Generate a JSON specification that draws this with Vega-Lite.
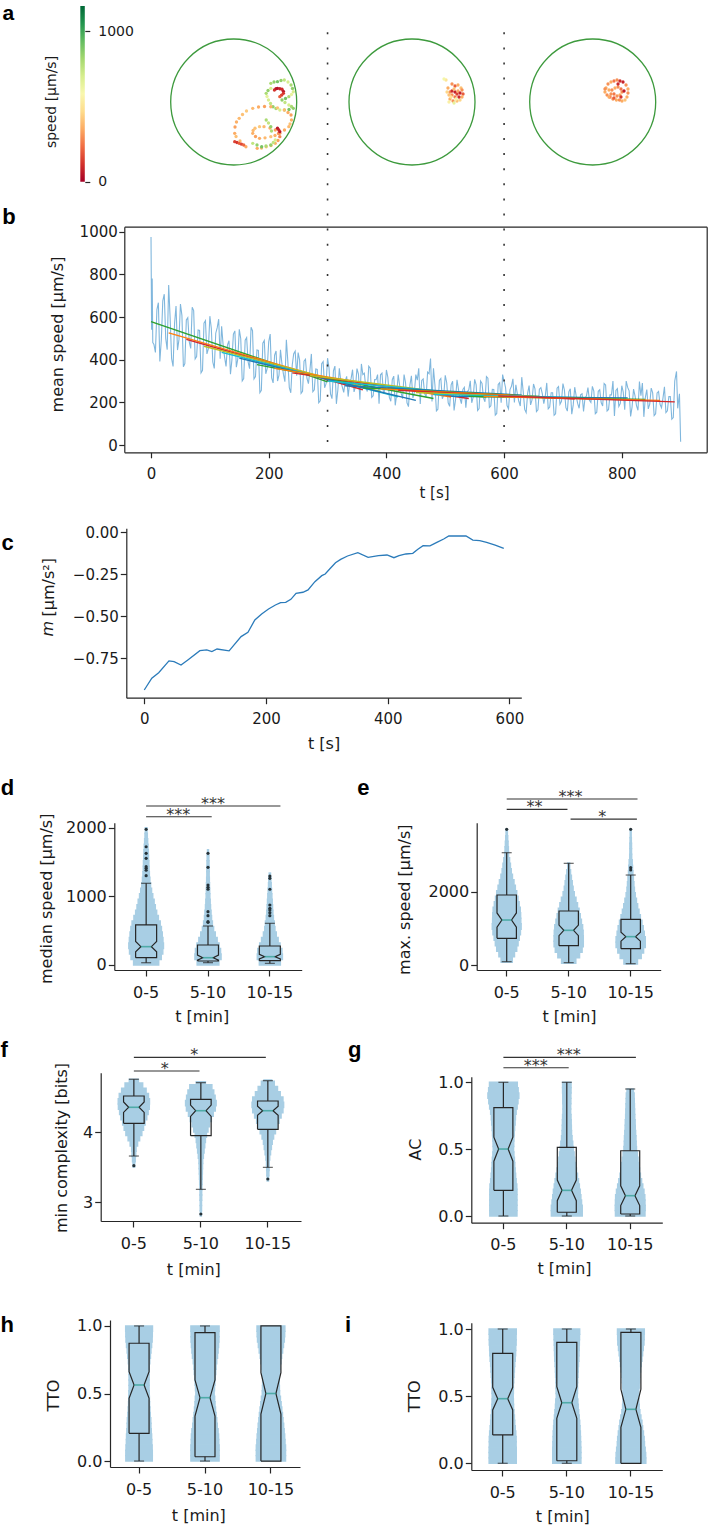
{
"$schema":"https://vega.github.io/schema/vega-lite/v6.json",
"width":708,"height":1526,"autosize":{"type":"none"},"padding":0,"background":"white",
"config":{"view":{"stroke":null},"axis":{"grid":false,"labelFlush":false,"labelOverlap":false,"labelFont":"DejaVu Sans","titleFont":"DejaVu Sans","labelFontSize":16,"titleFontSize":16,"titleFontWeight":"normal","labelColor":"#1a1a1a","titleColor":"#1a1a1a","domainColor":"#262626","tickColor":"#262626","domainWidth":1.2,"tickWidth":1.2,"tickSize":6,"labelPadding":2,"labelAngle":0,"titleAlign":"center","titleBaseline":"middle"},"text":{"font":"DejaVu Sans"}},
"datasets":{
"noise":[{"t":0,"v":975},{"t":1,"v":540},{"t":2,"v":780},{"t":3,"v":480},{"t":5,"v":471},{"t":10,"v":635},{"t":15,"v":392},{"t":20,"v":676},{"t":25,"v":500},{"t":30,"v":750},{"t":35,"v":405},{"t":40,"v":570},{"t":45,"v":445},{"t":50,"v":661},{"t":55,"v":367},{"t":60,"v":586},{"t":65,"v":483},{"t":70,"v":646},{"t":75,"v":404},{"t":80,"v":539},{"t":85,"v":338},{"t":90,"v":571},{"t":95,"v":427},{"t":100,"v":604},{"t":105,"v":389},{"t":110,"v":524},{"t":115,"v":590},{"t":120,"v":557},{"t":125,"v":412},{"t":130,"v":470},{"t":135,"v":332},{"t":140,"v":520},{"t":145,"v":365},{"t":150,"v":542},{"t":155,"v":300},{"t":160,"v":491},{"t":165,"v":389},{"t":170,"v":552},{"t":175,"v":310},{"t":180,"v":445},{"t":185,"v":245},{"t":190,"v":478},{"t":195,"v":334},{"t":200,"v":484},{"t":205,"v":315},{"t":210,"v":421},{"t":215,"v":300},{"t":220,"v":446},{"t":225,"v":332},{"t":230,"v":493},{"t":235,"v":269},{"t":240,"v":375},{"t":245,"v":440},{"t":250,"v":433},{"t":255,"v":242},{"t":260,"v":393},{"t":265,"v":312},{"t":270,"v":350},{"t":275,"v":250},{"t":280,"v":356},{"t":285,"v":198},{"t":290,"v":381},{"t":295,"v":268},{"t":300,"v":407},{"t":305,"v":240},{"t":310,"v":348},{"t":315,"v":193},{"t":320,"v":360},{"t":325,"v":273},{"t":330,"v":300},{"t":335,"v":227},{"t":340,"v":311},{"t":345,"v":249},{"t":350,"v":358},{"t":355,"v":212},{"t":360,"v":330},{"t":365,"v":269},{"t":370,"v":369},{"t":375,"v":223},{"t":380,"v":307},{"t":385,"v":330},{"t":390,"v":329},{"t":395,"v":243},{"t":400,"v":352},{"t":405,"v":223},{"t":410,"v":306},{"t":415,"v":186},{"t":420,"v":330},{"t":425,"v":243},{"t":430,"v":330},{"t":435,"v":198},{"t":440,"v":282},{"t":445,"v":220},{"t":450,"v":330},{"t":455,"v":360},{"t":460,"v":303},{"t":465,"v":241},{"t":470,"v":342},{"t":475,"v":405},{"t":480,"v":360},{"t":485,"v":160},{"t":490,"v":303},{"t":495,"v":217},{"t":500,"v":327},{"t":505,"v":198},{"t":510,"v":282},{"t":515,"v":162},{"t":520,"v":306},{"t":525,"v":219},{"t":530,"v":260},{"t":535,"v":175},{"t":540,"v":259},{"t":545,"v":198},{"t":550,"v":308},{"t":555,"v":162},{"t":560,"v":300},{"t":565,"v":220},{"t":570,"v":321},{"t":575,"v":176},{"t":580,"v":261},{"t":585,"v":140},{"t":590,"v":284},{"t":595,"v":198},{"t":600,"v":299},{"t":605,"v":185},{"t":610,"v":260},{"t":615,"v":310},{"t":620,"v":282},{"t":625,"v":205},{"t":630,"v":318},{"t":635,"v":167},{"t":640,"v":242},{"t":645,"v":188},{"t":650,"v":286},{"t":655,"v":157},{"t":660,"v":262},{"t":665,"v":240},{"t":670,"v":230},{"t":675,"v":170},{"t":680,"v":245},{"t":685,"v":139},{"t":690,"v":266},{"t":695,"v":191},{"t":700,"v":288},{"t":705,"v":175},{"t":710,"v":249},{"t":715,"v":144},{"t":720,"v":271},{"t":725,"v":195},{"t":730,"v":235},{"t":735,"v":157},{"t":740,"v":231},{"t":745,"v":210},{"t":750,"v":275},{"t":755,"v":147},{"t":760,"v":252},{"t":765,"v":199},{"t":770,"v":288},{"t":775,"v":160},{"t":780,"v":235},{"t":785,"v":300},{"t":790,"v":256},{"t":795,"v":181},{"t":800,"v":278},{"t":805,"v":165},{"t":810,"v":270},{"t":815,"v":134},{"t":820,"v":262},{"t":825,"v":185},{"t":830,"v":298},{"t":835,"v":290},{"t":840,"v":222},{"t":845,"v":169},{"t":850,"v":267},{"t":855,"v":138},{"t":860,"v":244},{"t":865,"v":191},{"t":870,"v":220},{"t":875,"v":152},{"t":880,"v":227},{"t":885,"v":121},{"t":890,"v":300},{"t":893,"v":345},{"t":895,"v":172},{"t":898,"v":240},{"t":900,"v":15},
{"t":7.5,"v":434},{"t":12.5,"v":667},{"t":17.5,"v":492},{"t":22.5,"v":707},{"t":27.5,"v":447},{"t":32.5,"v":595},{"t":37.5,"v":368},{"t":42.5,"v":652},{"t":47.5,"v":494},{"t":52.5,"v":608},{"t":57.5,"v":382},{"t":62.5,"v":597},{"t":67.5,"v":453},{"t":72.5,"v":630},{"t":77.5,"v":415},{"t":82.5,"v":537},{"t":87.5,"v":350},{"t":92.5,"v":583},{"t":97.5,"v":452},{"t":102.5,"v":546},{"t":107.5,"v":359},{"t":112.5,"v":550},{"t":117.5,"v":405},{"t":122.5,"v":470},{"t":127.5,"v":368},{"t":132.5,"v":489},{"t":137.5,"v":400},{"t":142.5,"v":535},{"t":147.5,"v":404},{"t":152.5,"v":498},{"t":157.5,"v":311},{"t":162.5,"v":503},{"t":167.5,"v":358},{"t":172.5,"v":536},{"t":177.5,"v":321},{"t":182.5,"v":443},{"t":187.5,"v":256},{"t":192.5,"v":490},{"t":197.5,"v":359},{"t":202.5,"v":520},{"t":207.5,"v":291},{"t":212.5,"v":441},{"t":217.5,"v":327},{"t":222.5,"v":380},{"t":227.5,"v":297},{"t":232.5,"v":392},{"t":237.5,"v":245},{"t":242.5,"v":428},{"t":247.5,"v":325},{"t":252.5,"v":398},{"t":257.5,"v":252},{"t":262.5,"v":402},{"t":267.5,"v":288},{"t":272.5,"v":427},{"t":277.5,"v":259},{"t":282.5,"v":354},{"t":287.5,"v":207},{"t":292.5,"v":391},{"t":297.5,"v":288},{"t":302.5,"v":362},{"t":307.5,"v":217},{"t":312.5,"v":370},{"t":317.5,"v":258},{"t":322.5,"v":300},{"t":327.5,"v":247},{"t":332.5,"v":322},{"t":337.5,"v":290},{"t":342.5,"v":353},{"t":347.5,"v":274},{"t":352.5,"v":332},{"t":357.5,"v":380},{"t":362.5,"v":337},{"t":367.5,"v":251},{"t":372.5,"v":360},{"t":377.5,"v":231},{"t":382.5,"v":306},{"t":387.5,"v":194},{"t":392.5,"v":337},{"t":397.5,"v":259},{"t":402.5,"v":317},{"t":407.5,"v":205},{"t":412.5,"v":323},{"t":417.5,"v":237},{"t":422.5,"v":280},{"t":427.5,"v":217},{"t":432.5,"v":293},{"t":437.5,"v":180},{"t":442.5,"v":324},{"t":447.5,"v":246},{"t":452.5,"v":304},{"t":457.5,"v":192},{"t":462.5,"v":310},{"t":467.5,"v":224},{"t":472.5,"v":334},{"t":477.5,"v":204},{"t":482.5,"v":280},{"t":487.5,"v":168},{"t":492.5,"v":312},{"t":497.5,"v":234},{"t":502.5,"v":292},{"t":507.5,"v":181},{"t":512.5,"v":299},{"t":517.5,"v":213},{"t":522.5,"v":260},{"t":527.5,"v":194},{"t":532.5,"v":270},{"t":537.5,"v":250},{"t":542.5,"v":301},{"t":547.5,"v":224},{"t":552.5,"v":282},{"t":557.5,"v":171},{"t":562.5,"v":289},{"t":567.5,"v":203},{"t":572.5,"v":313},{"t":577.5,"v":184},{"t":582.5,"v":260},{"t":587.5,"v":148},{"t":592.5,"v":292},{"t":597.5,"v":330},{"t":602.5,"v":269},{"t":607.5,"v":170},{"t":612.5,"v":275},{"t":617.5,"v":199},{"t":622.5,"v":240},{"t":627.5,"v":183},{"t":632.5,"v":250},{"t":637.5,"v":152},{"t":642.5,"v":279},{"t":647.5,"v":211},{"t":652.5,"v":263},{"t":657.5,"v":165},{"t":662.5,"v":269},{"t":667.5,"v":194},{"t":672.5,"v":291},{"t":677.5,"v":178},{"t":682.5,"v":245},{"t":687.5,"v":146},{"t":692.5,"v":274},{"t":697.5,"v":205},{"t":702.5,"v":258},{"t":707.5,"v":159},{"t":712.5,"v":264},{"t":717.5,"v":188},{"t":722.5,"v":230},{"t":727.5,"v":172},{"t":732.5,"v":240},{"t":737.5,"v":220},{"t":742.5,"v":269},{"t":747.5,"v":200},{"t":752.5,"v":253},{"t":757.5,"v":154},{"t":762.5,"v":259},{"t":767.5,"v":183},{"t":772.5,"v":281},{"t":777.5,"v":167},{"t":782.5,"v":235},{"t":787.5,"v":136},{"t":792.5,"v":264},{"t":797.5,"v":195},{"t":802.5,"v":248},{"t":807.5,"v":300},{"t":812.5,"v":254},{"t":817.5,"v":179},{"t":822.5,"v":230},{"t":827.5,"v":163},{"t":832.5,"v":231},{"t":837.5,"v":132},{"t":842.5,"v":260},{"t":847.5,"v":192},{"t":852.5,"v":244},{"t":857.5,"v":146},{"t":862.5,"v":251},{"t":867.5,"v":175},{"t":872.5,"v":273},{"t":877.5,"v":160},{"t":882.5,"v":227},{"t":887.5,"v":129}],
"fits":[{"w":0,"t":0,"v":578},{"w":0,"t":300,"v":296},{"w":1,"t":30,"v":526},{"w":1,"t":330,"v":286},{"w":2,"t":60,"v":495},{"w":2,"t":360,"v":259},{"w":3,"t":90,"v":463},{"w":3,"t":390,"v":251},{"w":4,"t":120,"v":434},{"w":4,"t":420,"v":226},{"w":5,"t":150,"v":407},{"w":5,"t":450,"v":209},{"w":6,"t":180,"v":377},{"w":6,"t":480,"v":218},{"w":7,"t":210,"v":359},{"w":7,"t":510,"v":225},{"w":8,"t":240,"v":338},{"w":8,"t":540,"v":218},{"w":9,"t":270,"v":326},{"w":9,"t":570,"v":223},{"w":10,"t":300,"v":300},{"w":10,"t":600,"v":225},{"w":11,"t":330,"v":278},{"w":11,"t":630,"v":234},{"w":12,"t":360,"v":268},{"w":12,"t":660,"v":228},{"w":13,"t":390,"v":263},{"w":13,"t":690,"v":222},{"w":14,"t":420,"v":257},{"w":14,"t":720,"v":215},{"w":15,"t":450,"v":246},{"w":15,"t":750,"v":216},{"w":16,"t":480,"v":237},{"w":16,"t":780,"v":219},{"w":17,"t":510,"v":228},{"w":17,"t":810,"v":221},{"w":18,"t":540,"v":228},{"w":18,"t":840,"v":214},{"w":19,"t":565,"v":228},{"w":19,"t":865,"v":209},{"w":20,"t":590,"v":230},{"w":20,"t":890,"v":202}],
"dots":[{"t":300,"v":14,"v2":1992},{"t":600,"v":14,"v2":1992}],
"slope":[{"t":0,"m":-0.939},{"t":12.4,"m":-0.869},{"t":23.7,"m":-0.836},{"t":40.6,"m":-0.766},{"t":49,"m":-0.77},{"t":60.4,"m":-0.79},{"t":71.6,"m":-0.76},{"t":91.4,"m":-0.705},{"t":102.7,"m":-0.7},{"t":111.1,"m":-0.71},{"t":119.6,"m":-0.695},{"t":139.4,"m":-0.706},{"t":159.1,"m":-0.621},{"t":170.4,"m":-0.595},{"t":181.7,"m":-0.522},{"t":192.9,"m":-0.486},{"t":204.2,"m":-0.457},{"t":215.5,"m":-0.433},{"t":224,"m":-0.419},{"t":232.4,"m":-0.417},{"t":240.9,"m":-0.399},{"t":249.4,"m":-0.363},{"t":260.7,"m":-0.357},{"t":269.1,"m":-0.343},{"t":280.4,"m":-0.294},{"t":291.7,"m":-0.258},{"t":297.3,"m":-0.248},{"t":305.8,"m":-0.214},{"t":314.2,"m":-0.181},{"t":322.7,"m":-0.161},{"t":334,"m":-0.141},{"t":350.9,"m":-0.121},{"t":367.8,"m":-0.149},{"t":384.8,"m":-0.139},{"t":398.9,"m":-0.135},{"t":410.2,"m":-0.151},{"t":418.6,"m":-0.139},{"t":429.9,"m":-0.129},{"t":441.2,"m":-0.125},{"t":449.6,"m":-0.101},{"t":458.1,"m":-0.08},{"t":469.4,"m":-0.081},{"t":480.7,"m":-0.06},{"t":492,"m":-0.04},{"t":500.4,"m":-0.022},{"t":514.5,"m":-0.022},{"t":528.6,"m":-0.022},{"t":539.9,"m":-0.046},{"t":551.2,"m":-0.049},{"t":562.5,"m":-0.06},{"t":576.6,"m":-0.076},{"t":590.7,"m":-0.095}],
"traj1":[{"x":0.589,"y":0.297,"s":800},{"x":0.64,"y":0.317,"s":850},{"x":0.695,"y":0.322,"s":900},{"x":0.751,"y":0.341,"s":850},{"x":0.803,"y":0.349,"s":750},{"x":0.862,"y":0.317,"s":700},{"x":0.91,"y":0.27,"s":800},{"x":0.933,"y":0.214,"s":850},{"x":0.946,"y":0.163,"s":700},{"x":0.917,"y":0.119,"s":650},{"x":0.875,"y":0.084,"s":800},{"x":0.822,"y":0.056,"s":900},{"x":0.767,"y":0.032,"s":850},{"x":0.814,"y":-0.008,"s":750},{"x":0.875,"y":-0.048,"s":700},{"x":0.917,"y":-0.071,"s":800},{"x":0.946,"y":-0.1,"s":850},{"x":0.878,"y":-0.119,"s":900},{"x":0.806,"y":-0.127,"s":800},{"x":0.732,"y":-0.127,"s":700},{"x":0.671,"y":-0.103,"s":800},{"x":0.624,"y":-0.075,"s":850},{"x":0.584,"y":-0.024,"s":750},{"x":0.552,"y":0.032,"s":700},{"x":0.529,"y":0.087,"s":650},{"x":0.516,"y":0.138,"s":800},{"x":0.545,"y":0.183,"s":850},{"x":0.589,"y":0.217,"s":700},{"x":0.646,"y":0.19,"s":120},{"x":0.671,"y":0.21,"s":60},{"x":0.695,"y":0.217,"s":40},{"x":0.732,"y":0.21,"s":80},{"x":0.767,"y":0.202,"s":100},{"x":0.789,"y":0.17,"s":60},{"x":0.789,"y":0.138,"s":120},{"x":0.759,"y":0.108,"s":150},{"x":0.732,"y":0.084,"s":200},{"x":0.194,"y":-0.71,"s":350},{"x":0.1,"y":-0.619,"s":380},{"x":0.037,"y":-0.548,"s":400},{"x":0.016,"y":-0.497,"s":350},{"x":0.021,"y":-0.397,"s":330},{"x":0.044,"y":-0.317,"s":360},{"x":0.087,"y":-0.259,"s":380},{"x":0.14,"y":-0.198,"s":400},{"x":0.203,"y":-0.143,"s":420},{"x":0.302,"y":-0.1,"s":380},{"x":0.394,"y":-0.079,"s":350},{"x":0.489,"y":-0.071,"s":330},{"x":0.589,"y":-0.075,"s":360},{"x":0.695,"y":-0.092,"s":400},{"x":0.803,"y":-0.127,"s":380},{"x":0.862,"y":-0.167,"s":350},{"x":0.91,"y":-0.206,"s":330},{"x":0.917,"y":-0.286,"s":360},{"x":0.894,"y":-0.349,"s":400},{"x":0.875,"y":-0.392,"s":380},{"x":0.806,"y":-0.444,"s":350},{"x":0.732,"y":-0.497,"s":330},{"x":0.656,"y":-0.532,"s":360},{"x":0.589,"y":-0.551,"s":400},{"x":0.497,"y":-0.568,"s":380},{"x":0.41,"y":-0.576,"s":350},{"x":0.346,"y":-0.548,"s":330},{"x":0.302,"y":-0.497,"s":360},{"x":0.308,"y":-0.452,"s":380},{"x":0.338,"y":-0.417,"s":400},{"x":0.41,"y":-0.392,"s":420},{"x":0.481,"y":-0.392,"s":380},{"x":0.576,"y":-0.413,"s":350},{"x":0.66,"y":-0.444,"s":330},{"x":0.711,"y":-0.5,"s":300},{"x":0.732,"y":-0.551,"s":280},{"x":0.703,"y":-0.611,"s":330},{"x":0.66,"y":-0.656,"s":360},{"x":0.592,"y":-0.69,"s":380},{"x":0.516,"y":-0.71,"s":400},{"x":0.441,"y":-0.73,"s":380},{"x":0.373,"y":-0.735,"s":350},{"x":0.302,"y":-0.656,"s":750},{"x":0.37,"y":-0.683,"s":850},{"x":0.444,"y":-0.71,"s":900},{"x":0.513,"y":-0.698,"s":800},{"x":0.589,"y":-0.683,"s":850},{"x":0.629,"y":-0.643,"s":750},{"x":0.66,"y":-0.603,"s":700},{"x":0.6,"y":-0.46,"s":800},{"x":0.589,"y":-0.392,"s":850},{"x":0.552,"y":-0.333,"s":750},{"x":0.516,"y":-0.286,"s":800},{"x":0.016,"y":-0.63,"s":150},{"x":0.052,"y":-0.643,"s":120},{"x":0.087,"y":-0.656,"s":200},{"x":0.124,"y":-0.67,"s":160},{"x":0.159,"y":-0.683,"s":220},{"x":0.695,"y":-0.417,"s":60},{"x":0.732,"y":-0.471,"s":50},{"x":0.716,"y":-0.444,"s":80}],
"traj2":[{"x":0.54,"y":0.349,"s":500},{"x":0.508,"y":0.365,"s":600},{"x":0.571,"y":0.222,"s":350},{"x":0.635,"y":0.286,"s":300},{"x":0.683,"y":0.254,"s":200},{"x":0.73,"y":0.27,"s":350},{"x":0.778,"y":0.222,"s":400},{"x":0.794,"y":0.19,"s":300},{"x":0.81,"y":0.127,"s":200},{"x":0.794,"y":0.079,"s":350},{"x":0.762,"y":0.032,"s":450},{"x":0.714,"y":0.016,"s":400},{"x":0.651,"y":0.016,"s":300},{"x":0.603,"y":0.048,"s":350},{"x":0.587,"y":0.111,"s":400},{"x":0.603,"y":0.159,"s":300},{"x":0.635,"y":0.175,"s":100},{"x":0.683,"y":0.159,"s":80},{"x":0.714,"y":0.127,"s":150},{"x":0.746,"y":0.079,"s":100},{"x":0.683,"y":0.079,"s":250},{"x":0.635,"y":0.111,"s":300},{"x":0.667,"y":0.206,"s":400},{"x":0.73,"y":0.175,"s":350},{"x":0.762,"y":0.143,"s":80},{"x":0.698,"y":0.048,"s":600},{"x":0.619,"y":0.079,"s":500},{"x":0.556,"y":0.159,"s":450},{"x":0.587,"y":0.0,"s":550},{"x":0.667,"y":-0.016,"s":650}],
"traj3":[{"x":0.211,"y":0.222,"s":350},{"x":0.243,"y":0.286,"s":300},{"x":0.29,"y":0.317,"s":350},{"x":0.338,"y":0.333,"s":250},{"x":0.386,"y":0.349,"s":300},{"x":0.433,"y":0.333,"s":100},{"x":0.481,"y":0.317,"s":80},{"x":0.529,"y":0.27,"s":300},{"x":0.56,"y":0.206,"s":350},{"x":0.56,"y":0.143,"s":300},{"x":0.544,"y":0.079,"s":350},{"x":0.513,"y":0.032,"s":400},{"x":0.465,"y":0.016,"s":350},{"x":0.424,"y":0.032,"s":300},{"x":0.376,"y":0.032,"s":350},{"x":0.322,"y":0.048,"s":300},{"x":0.275,"y":0.079,"s":250},{"x":0.228,"y":0.111,"s":300},{"x":0.195,"y":0.159,"s":350},{"x":0.195,"y":0.206,"s":300},{"x":0.259,"y":0.19,"s":350},{"x":0.306,"y":0.19,"s":300},{"x":0.354,"y":0.222,"s":350},{"x":0.402,"y":0.238,"s":300},{"x":0.449,"y":0.206,"s":250},{"x":0.465,"y":0.159,"s":300},{"x":0.433,"y":0.111,"s":350},{"x":0.386,"y":0.095,"s":300},{"x":0.338,"y":0.127,"s":250},{"x":0.29,"y":0.127,"s":300},{"x":0.259,"y":0.079,"s":350},{"x":0.338,"y":0.063,"s":200},{"x":0.449,"y":0.079,"s":120},{"x":0.497,"y":0.175,"s":60},{"x":0.402,"y":0.286,"s":100}],
"vd":[{"g":"0-5","v":0,"v2":80,"d":0.74},{"g":"0-5","v":80,"v2":160,"d":0.89},{"g":"0-5","v":160,"v2":240,"d":0.98},{"g":"0-5","v":240,"v2":320,"d":1.02},{"g":"0-5","v":320,"v2":400,"d":0.99},{"g":"0-5","v":400,"v2":480,"d":0.95},{"g":"0-5","v":480,"v2":560,"d":0.9},{"g":"0-5","v":560,"v2":640,"d":0.83},{"g":"0-5","v":640,"v2":720,"d":0.72},{"g":"0-5","v":720,"v2":800,"d":0.62},{"g":"0-5","v":800,"v2":880,"d":0.54},{"g":"0-5","v":880,"v2":960,"d":0.47},{"g":"0-5","v":960,"v2":1040,"d":0.39},{"g":"0-5","v":1040,"v2":1120,"d":0.32},{"g":"0-5","v":1120,"v2":1200,"d":0.26},{"g":"0-5","v":1200,"v2":1280,"d":0.22},{"g":"0-5","v":1280,"v2":1360,"d":0.19},{"g":"0-5","v":1360,"v2":1440,"d":0.17},{"g":"0-5","v":1440,"v2":1520,"d":0.16},{"g":"0-5","v":1520,"v2":1600,"d":0.14},{"g":"0-5","v":1600,"v2":1680,"d":0.13},{"g":"0-5","v":1680,"v2":1760,"d":0.11},{"g":"0-5","v":1760,"v2":1840,"d":0.09},{"g":"0-5","v":1840,"v2":1920,"d":0.07},{"g":"0-5","v":1920,"v2":2000,"d":0.05},
{"g":"5-10","v":0,"v2":80,"d":0.64},{"g":"5-10","v":80,"v2":160,"d":0.77},{"g":"5-10","v":160,"v2":240,"d":0.74},{"g":"5-10","v":240,"v2":320,"d":0.65},{"g":"5-10","v":320,"v2":400,"d":0.54},{"g":"5-10","v":400,"v2":480,"d":0.43},{"g":"5-10","v":480,"v2":560,"d":0.33},{"g":"5-10","v":560,"v2":640,"d":0.26},{"g":"5-10","v":640,"v2":720,"d":0.21},{"g":"5-10","v":720,"v2":800,"d":0.18},{"g":"5-10","v":800,"v2":880,"d":0.15},{"g":"5-10","v":880,"v2":960,"d":0.13},{"g":"5-10","v":960,"v2":1040,"d":0.11},{"g":"5-10","v":1040,"v2":1120,"d":0.1},{"g":"5-10","v":1120,"v2":1200,"d":0.09},{"g":"5-10","v":1200,"v2":1280,"d":0.08},{"g":"5-10","v":1280,"v2":1360,"d":0.07},{"g":"5-10","v":1360,"v2":1440,"d":0.07},{"g":"5-10","v":1440,"v2":1520,"d":0.06},{"g":"5-10","v":1520,"v2":1600,"d":0.05},{"g":"5-10","v":1600,"v2":1680,"d":0.03},
{"g":"10-15","v":0,"v2":80,"d":0.62},{"g":"10-15","v":80,"v2":160,"d":0.74},{"g":"10-15","v":160,"v2":240,"d":0.71},{"g":"10-15","v":240,"v2":320,"d":0.6},{"g":"10-15","v":320,"v2":400,"d":0.49},{"g":"10-15","v":400,"v2":480,"d":0.38},{"g":"10-15","v":480,"v2":560,"d":0.3},{"g":"10-15","v":560,"v2":640,"d":0.26},{"g":"10-15","v":640,"v2":720,"d":0.21},{"g":"10-15","v":720,"v2":800,"d":0.18},{"g":"10-15","v":800,"v2":880,"d":0.16},{"g":"10-15","v":880,"v2":960,"d":0.14},{"g":"10-15","v":960,"v2":1040,"d":0.12},{"g":"10-15","v":1040,"v2":1120,"d":0.1},{"g":"10-15","v":1120,"v2":1200,"d":0.08},{"g":"10-15","v":1200,"v2":1280,"d":0.06},{"g":"10-15","v":1280,"v2":1340,"d":0.04}],
"bd":[{"g":"0-5","i":0,"o":-1,"v":107},{"g":"0-5","i":1,"o":-1,"v":192},{"g":"0-5","i":2,"o":-0.5,"v":267},{"g":"0-5","i":3,"o":-1,"v":342},{"g":"0-5","i":4,"o":-1,"v":583},{"g":"0-5","i":5,"o":1,"v":583},{"g":"0-5","i":6,"o":1,"v":342},{"g":"0-5","i":7,"o":0.5,"v":267},{"g":"0-5","i":8,"o":1,"v":192},{"g":"0-5","i":9,"o":1,"v":107},{"g":"0-5","i":10,"o":-1,"v":107},
{"g":"5-10","i":0,"o":-1,"v":58},{"g":"5-10","i":1,"o":-1,"v":70},{"g":"5-10","i":2,"o":-0.5,"v":106},{"g":"5-10","i":3,"o":-1,"v":145},{"g":"5-10","i":4,"o":-1,"v":291},{"g":"5-10","i":5,"o":1,"v":291},{"g":"5-10","i":6,"o":1,"v":145},{"g":"5-10","i":7,"o":0.5,"v":106},{"g":"5-10","i":8,"o":1,"v":70},{"g":"5-10","i":9,"o":1,"v":58},{"g":"5-10","i":10,"o":-1,"v":58},
{"g":"10-15","i":0,"o":-1,"v":63},{"g":"10-15","i":1,"o":-1,"v":88},{"g":"10-15","i":2,"o":-0.5,"v":121},{"g":"10-15","i":3,"o":-1,"v":154},{"g":"10-15","i":4,"o":-1,"v":277},{"g":"10-15","i":5,"o":1,"v":277},{"g":"10-15","i":6,"o":1,"v":154},{"g":"10-15","i":7,"o":0.5,"v":121},{"g":"10-15","i":8,"o":1,"v":88},{"g":"10-15","i":9,"o":1,"v":63},{"g":"10-15","i":10,"o":-1,"v":63}],
"wd":[{"g":"0-5","v":583,"v2":1190},{"g":"0-5","v":107,"v2":33},{"g":"5-10","v":291,"v2":568},{"g":"5-10","v":58,"v2":34},{"g":"10-15","v":277,"v2":607},{"g":"10-15","v":63,"v2":24}],
"cd":[{"g":"0-5","v":1190},{"g":"0-5","v":33},{"g":"5-10","v":568},{"g":"5-10","v":34},{"g":"10-15","v":607},{"g":"10-15","v":24}],
"md":[{"g":"0-5","v":267},{"g":"5-10","v":106},{"g":"10-15","v":121}],
"fd":[{"g":"0-5","v":1976},{"g":"0-5","v":1723},{"g":"0-5","v":1627},{"g":"0-5","v":1554},{"g":"0-5","v":1432},{"g":"0-5","v":1408},{"g":"0-5","v":1380},{"g":"0-5","v":1301},{"g":"5-10","v":1627},{"g":"5-10","v":1423},{"g":"5-10","v":1165},{"g":"5-10","v":1132},{"g":"5-10","v":1103},{"g":"5-10","v":777},{"g":"5-10","v":719},{"g":"5-10","v":631},{"g":"5-10","v":622},{"g":"10-15","v":1296},{"g":"10-15","v":1262},{"g":"10-15","v":1103},{"g":"10-15","v":874},{"g":"10-15","v":826},{"g":"10-15","v":801},{"g":"10-15","v":762},{"g":"10-15","v":719}],
"sld":[{"x":0,"x2":2.17,"y":2316},{"x":0,"x2":1.06,"y":2160}],
"std":[{"x":1.08,"y":2316,"label":"***"},{"x":0.52,"y":2160,"label":"***"}],
"ve":[{"g":"0-5","v":75,"v2":225,"d":0.33},{"g":"0-5","v":225,"v2":375,"d":0.46},{"g":"0-5","v":375,"v2":525,"d":0.59},{"g":"0-5","v":525,"v2":675,"d":0.67},{"g":"0-5","v":675,"v2":825,"d":0.74},{"g":"0-5","v":825,"v2":975,"d":0.81},{"g":"0-5","v":975,"v2":1125,"d":0.85},{"g":"0-5","v":1125,"v2":1275,"d":0.83},{"g":"0-5","v":1275,"v2":1425,"d":0.82},{"g":"0-5","v":1425,"v2":1575,"d":0.8},{"g":"0-5","v":1575,"v2":1725,"d":0.73},{"g":"0-5","v":1725,"v2":1875,"d":0.66},{"g":"0-5","v":1875,"v2":2025,"d":0.59},{"g":"0-5","v":2025,"v2":2175,"d":0.51},{"g":"0-5","v":2175,"v2":2325,"d":0.43},{"g":"0-5","v":2325,"v2":2475,"d":0.34},{"g":"0-5","v":2475,"v2":2625,"d":0.27},{"g":"0-5","v":2625,"v2":2775,"d":0.22},{"g":"0-5","v":2775,"v2":2925,"d":0.17},{"g":"0-5","v":2925,"v2":3075,"d":0.11},{"g":"0-5","v":3075,"v2":3225,"d":0.1},{"g":"0-5","v":3225,"v2":3375,"d":0.08},{"g":"0-5","v":3375,"v2":3525,"d":0.06},{"g":"0-5","v":3525,"v2":3700,"d":0.04},
{"g":"5-10","v":50,"v2":200,"d":0.42},{"g":"5-10","v":200,"v2":350,"d":0.64},{"g":"5-10","v":350,"v2":500,"d":0.79},{"g":"5-10","v":500,"v2":650,"d":0.86},{"g":"5-10","v":650,"v2":800,"d":0.86},{"g":"5-10","v":800,"v2":950,"d":0.85},{"g":"5-10","v":950,"v2":1100,"d":0.82},{"g":"5-10","v":1100,"v2":1250,"d":0.75},{"g":"5-10","v":1250,"v2":1400,"d":0.68},{"g":"5-10","v":1400,"v2":1550,"d":0.61},{"g":"5-10","v":1550,"v2":1700,"d":0.52},{"g":"5-10","v":1700,"v2":1850,"d":0.43},{"g":"5-10","v":1850,"v2":2000,"d":0.33},{"g":"5-10","v":2000,"v2":2150,"d":0.26},{"g":"5-10","v":2150,"v2":2300,"d":0.21},{"g":"5-10","v":2300,"v2":2450,"d":0.16},{"g":"5-10","v":2450,"v2":2600,"d":0.11},{"g":"5-10","v":2600,"v2":2780,"d":0.06},
{"g":"10-15","v":25,"v2":175,"d":0.4},{"g":"10-15","v":175,"v2":325,"d":0.62},{"g":"10-15","v":325,"v2":475,"d":0.76},{"g":"10-15","v":475,"v2":625,"d":0.86},{"g":"10-15","v":625,"v2":775,"d":0.86},{"g":"10-15","v":775,"v2":925,"d":0.8},{"g":"10-15","v":925,"v2":1075,"d":0.74},{"g":"10-15","v":1075,"v2":1225,"d":0.66},{"g":"10-15","v":1225,"v2":1375,"d":0.57},{"g":"10-15","v":1375,"v2":1525,"d":0.49},{"g":"10-15","v":1525,"v2":1675,"d":0.41},{"g":"10-15","v":1675,"v2":1825,"d":0.34},{"g":"10-15","v":1825,"v2":1975,"d":0.27},{"g":"10-15","v":1975,"v2":2125,"d":0.22},{"g":"10-15","v":2125,"v2":2275,"d":0.19},{"g":"10-15","v":2275,"v2":2425,"d":0.16},{"g":"10-15","v":2425,"v2":2575,"d":0.13},{"g":"10-15","v":2575,"v2":2725,"d":0.11},{"g":"10-15","v":2725,"v2":2875,"d":0.09},{"g":"10-15","v":2875,"v2":3025,"d":0.06},{"g":"10-15","v":3025,"v2":3175,"d":0.05},{"g":"10-15","v":3175,"v2":3325,"d":0.05},{"g":"10-15","v":3325,"v2":3475,"d":0.04},{"g":"10-15","v":3475,"v2":3700,"d":0.03}],
"be":[{"g":"0-5","i":0,"o":-1,"v":727},{"g":"0-5","i":1,"o":-1,"v":1030},{"g":"0-5","i":2,"o":-0.5,"v":1227},{"g":"0-5","i":3,"o":-1,"v":1420},{"g":"0-5","i":4,"o":-1,"v":1909},{"g":"0-5","i":5,"o":1,"v":1909},{"g":"0-5","i":6,"o":1,"v":1420},{"g":"0-5","i":7,"o":0.5,"v":1227},{"g":"0-5","i":8,"o":1,"v":1030},{"g":"0-5","i":9,"o":1,"v":727},{"g":"0-5","i":10,"o":-1,"v":727},
{"g":"5-10","i":0,"o":-1,"v":527},{"g":"5-10","i":1,"o":-1,"v":800},{"g":"5-10","i":2,"o":-0.5,"v":946},{"g":"5-10","i":3,"o":-1,"v":1090},{"g":"5-10","i":4,"o":-1,"v":1473},{"g":"5-10","i":5,"o":1,"v":1473},{"g":"5-10","i":6,"o":1,"v":1090},{"g":"5-10","i":7,"o":0.5,"v":946},{"g":"5-10","i":8,"o":1,"v":800},{"g":"5-10","i":9,"o":1,"v":527},{"g":"5-10","i":10,"o":-1,"v":527},
{"g":"10-15","i":0,"o":-1,"v":445},{"g":"10-15","i":1,"o":-1,"v":650},{"g":"10-15","i":2,"o":-0.5,"v":773},{"g":"10-15","i":3,"o":-1,"v":896},{"g":"10-15","i":4,"o":-1,"v":1245},{"g":"10-15","i":5,"o":1,"v":1245},{"g":"10-15","i":6,"o":1,"v":896},{"g":"10-15","i":7,"o":0.5,"v":773},{"g":"10-15","i":8,"o":1,"v":650},{"g":"10-15","i":9,"o":1,"v":445},{"g":"10-15","i":10,"o":-1,"v":445}],
"we":[{"g":"0-5","v":1909,"v2":3063},{"g":"0-5","v":727,"v2":91},{"g":"5-10","v":1473,"v2":2773},{"g":"5-10","v":527,"v2":64},{"g":"10-15","v":1245,"v2":2454},{"g":"10-15","v":445,"v2":36}],
"ce":[{"g":"0-5","v":3063},{"g":"0-5","v":91},{"g":"5-10","v":2773},{"g":"5-10","v":64},{"g":"10-15","v":2454},{"g":"10-15","v":36}],
"me":[{"g":"0-5","v":1227},{"g":"5-10","v":946},{"g":"10-15","v":773}],
"fe":[{"g":"0-5","v":3700},{"g":"10-15","v":3700},{"g":"10-15","v":2654},{"g":"10-15","v":2591}],
"sle":[{"x":0,"x2":2.11,"y":4527},{"x":0,"x2":0.98,"y":4245},{"x":1.03,"x2":2.1,"y":3981}],
"ste":[{"x":1.03,"y":4527,"label":"***"},{"x":0.45,"y":4245,"label":"**"},{"x":1.54,"y":3981,"label":"*"}],
"vf":[{"g":"0-5","v":3.5,"v2":3.575,"d":0.05},{"g":"0-5","v":3.575,"v2":3.65,"d":0.08},{"g":"0-5","v":3.65,"v2":3.725,"d":0.11},{"g":"0-5","v":3.725,"v2":3.8,"d":0.13},{"g":"0-5","v":3.8,"v2":3.875,"d":0.22},{"g":"0-5","v":3.875,"v2":3.95,"d":0.34},{"g":"0-5","v":3.95,"v2":4.025,"d":0.47},{"g":"0-5","v":4.025,"v2":4.1,"d":0.57},{"g":"0-5","v":4.1,"v2":4.175,"d":0.66},{"g":"0-5","v":4.175,"v2":4.25,"d":0.76},{"g":"0-5","v":4.25,"v2":4.325,"d":0.84},{"g":"0-5","v":4.325,"v2":4.4,"d":0.91},{"g":"0-5","v":4.4,"v2":4.475,"d":0.92},{"g":"0-5","v":4.475,"v2":4.55,"d":0.86},{"g":"0-5","v":4.55,"v2":4.625,"d":0.72},{"g":"0-5","v":4.625,"v2":4.7,"d":0.52},{"g":"0-5","v":4.7,"v2":4.755,"d":0.27},
{"g":"5-10","v":2.8,"v2":2.875,"d":0.03},{"g":"5-10","v":2.875,"v2":2.95,"d":0.04},{"g":"5-10","v":2.95,"v2":3.025,"d":0.04},{"g":"5-10","v":3.025,"v2":3.1,"d":0.05},{"g":"5-10","v":3.1,"v2":3.175,"d":0.05},{"g":"5-10","v":3.175,"v2":3.25,"d":0.06},{"g":"5-10","v":3.25,"v2":3.325,"d":0.07},{"g":"5-10","v":3.325,"v2":3.4,"d":0.08},{"g":"5-10","v":3.4,"v2":3.475,"d":0.09},{"g":"5-10","v":3.475,"v2":3.55,"d":0.1},{"g":"5-10","v":3.55,"v2":3.625,"d":0.11},{"g":"5-10","v":3.625,"v2":3.7,"d":0.15},{"g":"5-10","v":3.7,"v2":3.775,"d":0.19},{"g":"5-10","v":3.775,"v2":3.85,"d":0.23},{"g":"5-10","v":3.85,"v2":3.925,"d":0.27},{"g":"5-10","v":3.925,"v2":4.0,"d":0.33},{"g":"5-10","v":4.0,"v2":4.075,"d":0.42},{"g":"5-10","v":4.075,"v2":4.15,"d":0.51},{"g":"5-10","v":4.15,"v2":4.225,"d":0.62},{"g":"5-10","v":4.225,"v2":4.3,"d":0.73},{"g":"5-10","v":4.3,"v2":4.375,"d":0.85},{"g":"5-10","v":4.375,"v2":4.45,"d":0.9},{"g":"5-10","v":4.45,"v2":4.525,"d":0.84},{"g":"5-10","v":4.525,"v2":4.6,"d":0.76},{"g":"5-10","v":4.6,"v2":4.675,"d":0.65},{"g":"5-10","v":4.675,"v2":4.72,"d":0.27},
{"g":"10-15","v":3.3,"v2":3.375,"d":0.04},{"g":"10-15","v":3.375,"v2":3.45,"d":0.06},{"g":"10-15","v":3.45,"v2":3.525,"d":0.07},{"g":"10-15","v":3.525,"v2":3.6,"d":0.08},{"g":"10-15","v":3.6,"v2":3.675,"d":0.11},{"g":"10-15","v":3.675,"v2":3.75,"d":0.16},{"g":"10-15","v":3.75,"v2":3.825,"d":0.21},{"g":"10-15","v":3.825,"v2":3.9,"d":0.26},{"g":"10-15","v":3.9,"v2":3.975,"d":0.34},{"g":"10-15","v":3.975,"v2":4.05,"d":0.45},{"g":"10-15","v":4.05,"v2":4.125,"d":0.55},{"g":"10-15","v":4.125,"v2":4.2,"d":0.66},{"g":"10-15","v":4.2,"v2":4.275,"d":0.78},{"g":"10-15","v":4.275,"v2":4.35,"d":0.89},{"g":"10-15","v":4.35,"v2":4.425,"d":0.93},{"g":"10-15","v":4.425,"v2":4.5,"d":0.89},{"g":"10-15","v":4.5,"v2":4.575,"d":0.73},{"g":"10-15","v":4.575,"v2":4.65,"d":0.57},{"g":"10-15","v":4.65,"v2":4.725,"d":0.38},{"g":"10-15","v":4.725,"v2":4.745,"d":0.23}],
"bf":[{"g":"0-5","i":0,"o":-1,"v":4.124},{"g":"0-5","i":1,"o":-1,"v":4.28},{"g":"0-5","i":2,"o":-0.5,"v":4.353},{"g":"0-5","i":3,"o":-1,"v":4.43},{"g":"0-5","i":4,"o":-1,"v":4.514},{"g":"0-5","i":5,"o":1,"v":4.514},{"g":"0-5","i":6,"o":1,"v":4.43},{"g":"0-5","i":7,"o":0.5,"v":4.353},{"g":"0-5","i":8,"o":1,"v":4.28},{"g":"0-5","i":9,"o":1,"v":4.124},{"g":"0-5","i":10,"o":-1,"v":4.124},
{"g":"5-10","i":0,"o":-1,"v":3.948},{"g":"5-10","i":1,"o":-1,"v":4.223},{"g":"5-10","i":2,"o":-0.5,"v":4.304},{"g":"5-10","i":3,"o":-1,"v":4.385},{"g":"5-10","i":4,"o":-1,"v":4.467},{"g":"5-10","i":5,"o":1,"v":4.467},{"g":"5-10","i":6,"o":1,"v":4.385},{"g":"5-10","i":7,"o":0.5,"v":4.304},{"g":"5-10","i":8,"o":1,"v":4.223},{"g":"5-10","i":9,"o":1,"v":3.948},{"g":"5-10","i":10,"o":-1,"v":3.948},
{"g":"10-15","i":0,"o":-1,"v":4.038},{"g":"10-15","i":1,"o":-1,"v":4.24},{"g":"10-15","i":2,"o":-0.5,"v":4.304},{"g":"10-15","i":3,"o":-1,"v":4.368},{"g":"10-15","i":4,"o":-1,"v":4.443},{"g":"10-15","i":5,"o":1,"v":4.443},{"g":"10-15","i":6,"o":1,"v":4.368},{"g":"10-15","i":7,"o":0.5,"v":4.304},{"g":"10-15","i":8,"o":1,"v":4.24},{"g":"10-15","i":9,"o":1,"v":4.038},{"g":"10-15","i":10,"o":-1,"v":4.038}],
"wf":[{"g":"0-5","v":4.514,"v2":4.753},{"g":"0-5","v":4.124,"v2":3.657},{"g":"5-10","v":4.467,"v2":4.705},{"g":"5-10","v":3.948,"v2":3.181},{"g":"10-15","v":4.443,"v2":4.733},{"g":"10-15","v":4.038,"v2":3.495}],
"cf":[{"g":"0-5","v":4.753},{"g":"0-5","v":3.657},{"g":"5-10","v":4.705},{"g":"5-10","v":3.181},{"g":"10-15","v":4.733},{"g":"10-15","v":3.495}],
"mf":[{"g":"0-5","v":4.353},{"g":"5-10","v":4.304},{"g":"10-15","v":4.304}],
"ff":[{"g":"0-5","v":3.519},{"g":"5-10","v":2.829},{"g":"10-15","v":3.329}],
"slf":[{"x":0,"x2":1.97,"y":5.067},{"x":0,"x2":0.98,"y":4.871}],
"stf":[{"x":0.9,"y":5.067,"label":"*"},{"x":0.46,"y":4.871,"label":"*"}],
"vg":[{"g":"0-5","v":0,"v2":0.04,"d":0.8},{"g":"0-5","v":0.04,"v2":0.08,"d":0.8},{"g":"0-5","v":0.08,"v2":0.12,"d":0.8},{"g":"0-5","v":0.12,"v2":0.16,"d":0.8},{"g":"0-5","v":0.16,"v2":0.2,"d":0.8},{"g":"0-5","v":0.2,"v2":0.24,"d":0.79},{"g":"0-5","v":0.24,"v2":0.28,"d":0.75},{"g":"0-5","v":0.28,"v2":0.32,"d":0.72},{"g":"0-5","v":0.32,"v2":0.36,"d":0.69},{"g":"0-5","v":0.36,"v2":0.4,"d":0.67},{"g":"0-5","v":0.4,"v2":0.44,"d":0.65},{"g":"0-5","v":0.44,"v2":0.48,"d":0.62},{"g":"0-5","v":0.48,"v2":0.52,"d":0.6},{"g":"0-5","v":0.52,"v2":0.56,"d":0.61},{"g":"0-5","v":0.56,"v2":0.6,"d":0.62},{"g":"0-5","v":0.6,"v2":0.64,"d":0.64},{"g":"0-5","v":0.64,"v2":0.68,"d":0.66},{"g":"0-5","v":0.68,"v2":0.72,"d":0.69},{"g":"0-5","v":0.72,"v2":0.76,"d":0.71},{"g":"0-5","v":0.76,"v2":0.8,"d":0.75},{"g":"0-5","v":0.8,"v2":0.84,"d":0.81},{"g":"0-5","v":0.84,"v2":0.88,"d":0.86},{"g":"0-5","v":0.88,"v2":0.92,"d":0.91},{"g":"0-5","v":0.92,"v2":0.96,"d":0.87},{"g":"0-5","v":0.96,"v2":1,"d":0.82},
{"g":"5-10","v":0,"v2":0.04,"d":0.91},{"g":"5-10","v":0.04,"v2":0.08,"d":0.91},{"g":"5-10","v":0.08,"v2":0.12,"d":0.87},{"g":"5-10","v":0.12,"v2":0.16,"d":0.83},{"g":"5-10","v":0.16,"v2":0.2,"d":0.79},{"g":"5-10","v":0.2,"v2":0.24,"d":0.74},{"g":"5-10","v":0.24,"v2":0.28,"d":0.69},{"g":"5-10","v":0.28,"v2":0.32,"d":0.63},{"g":"5-10","v":0.32,"v2":0.36,"d":0.57},{"g":"5-10","v":0.36,"v2":0.4,"d":0.51},{"g":"5-10","v":0.4,"v2":0.44,"d":0.47},{"g":"5-10","v":0.44,"v2":0.48,"d":0.43},{"g":"5-10","v":0.48,"v2":0.52,"d":0.39},{"g":"5-10","v":0.52,"v2":0.56,"d":0.35},{"g":"5-10","v":0.56,"v2":0.6,"d":0.31},{"g":"5-10","v":0.6,"v2":0.64,"d":0.28},{"g":"5-10","v":0.64,"v2":0.68,"d":0.27},{"g":"5-10","v":0.68,"v2":0.72,"d":0.26},{"g":"5-10","v":0.72,"v2":0.76,"d":0.25},{"g":"5-10","v":0.76,"v2":0.8,"d":0.23},{"g":"5-10","v":0.8,"v2":0.84,"d":0.23},{"g":"5-10","v":0.84,"v2":0.88,"d":0.24},{"g":"5-10","v":0.88,"v2":0.92,"d":0.24},{"g":"5-10","v":0.92,"v2":0.96,"d":0.25},{"g":"5-10","v":0.96,"v2":1,"d":0.25},
{"g":"10-15","v":0,"v2":0.04,"d":0.87},{"g":"10-15","v":0.04,"v2":0.08,"d":0.88},{"g":"10-15","v":0.08,"v2":0.12,"d":0.87},{"g":"10-15","v":0.12,"v2":0.16,"d":0.86},{"g":"10-15","v":0.16,"v2":0.2,"d":0.81},{"g":"10-15","v":0.2,"v2":0.24,"d":0.74},{"g":"10-15","v":0.24,"v2":0.28,"d":0.67},{"g":"10-15","v":0.28,"v2":0.32,"d":0.6},{"g":"10-15","v":0.32,"v2":0.36,"d":0.55},{"g":"10-15","v":0.36,"v2":0.4,"d":0.51},{"g":"10-15","v":0.4,"v2":0.44,"d":0.46},{"g":"10-15","v":0.44,"v2":0.48,"d":0.42},{"g":"10-15","v":0.48,"v2":0.52,"d":0.37},{"g":"10-15","v":0.52,"v2":0.56,"d":0.35},{"g":"10-15","v":0.56,"v2":0.6,"d":0.34},{"g":"10-15","v":0.6,"v2":0.64,"d":0.32},{"g":"10-15","v":0.64,"v2":0.68,"d":0.3},{"g":"10-15","v":0.68,"v2":0.72,"d":0.29},{"g":"10-15","v":0.72,"v2":0.76,"d":0.27},{"g":"10-15","v":0.76,"v2":0.8,"d":0.26},{"g":"10-15","v":0.8,"v2":0.84,"d":0.25},{"g":"10-15","v":0.84,"v2":0.88,"d":0.24},{"g":"10-15","v":0.88,"v2":0.92,"d":0.23},{"g":"10-15","v":0.92,"v2":0.95,"d":0.19}],
"bg":[{"g":"0-5","i":0,"o":-1,"v":0.192},{"g":"0-5","i":1,"o":-1,"v":0.41},{"g":"0-5","i":2,"o":-0.5,"v":0.501},{"g":"0-5","i":3,"o":-1,"v":0.59},{"g":"0-5","i":4,"o":-1,"v":0.81},{"g":"0-5","i":5,"o":1,"v":0.81},{"g":"0-5","i":6,"o":1,"v":0.59},{"g":"0-5","i":7,"o":0.5,"v":0.501},{"g":"0-5","i":8,"o":1,"v":0.41},{"g":"0-5","i":9,"o":1,"v":0.192},{"g":"0-5","i":10,"o":-1,"v":0.192},
{"g":"5-10","i":0,"o":-1,"v":0.028},{"g":"5-10","i":1,"o":-1,"v":0.115},{"g":"5-10","i":2,"o":-0.5,"v":0.192},{"g":"5-10","i":3,"o":-1,"v":0.269},{"g":"5-10","i":4,"o":-1,"v":0.514},{"g":"5-10","i":5,"o":1,"v":0.514},{"g":"5-10","i":6,"o":1,"v":0.269},{"g":"5-10","i":7,"o":0.5,"v":0.192},{"g":"5-10","i":8,"o":1,"v":0.115},{"g":"5-10","i":9,"o":1,"v":0.028},{"g":"5-10","i":10,"o":-1,"v":0.028},
{"g":"10-15","i":0,"o":-1,"v":0.015},{"g":"10-15","i":1,"o":-1,"v":0.078},{"g":"10-15","i":2,"o":-0.5,"v":0.152},{"g":"10-15","i":3,"o":-1,"v":0.226},{"g":"10-15","i":4,"o":-1,"v":0.488},{"g":"10-15","i":5,"o":1,"v":0.488},{"g":"10-15","i":6,"o":1,"v":0.226},{"g":"10-15","i":7,"o":0.5,"v":0.152},{"g":"10-15","i":8,"o":1,"v":0.078},{"g":"10-15","i":9,"o":1,"v":0.015},{"g":"10-15","i":10,"o":-1,"v":0.015}],
"wg":[{"g":"0-5","v":0.81,"v2":1},{"g":"0-5","v":0.192,"v2":0},{"g":"5-10","v":0.514,"v2":1},{"g":"5-10","v":0.028,"v2":0},{"g":"10-15","v":0.488,"v2":0.95},{"g":"10-15","v":0.015,"v2":0}],
"cg":[{"g":"0-5","v":1},{"g":"0-5","v":0},{"g":"5-10","v":1},{"g":"5-10","v":0},{"g":"10-15","v":0.95},{"g":"10-15","v":0}],
"mg":[{"g":"0-5","v":0.501},{"g":"5-10","v":0.192},{"g":"10-15","v":0.152}],
"slg":[{"x":0,"x2":2.09,"y":1.187},{"x":0,"x2":1.03,"y":1.109}],
"stg":[{"x":1.03,"y":1.187,"label":"***"},{"x":0.51,"y":1.109,"label":"***"}],
"vh":[{"g":"0-5","v":0,"v2":0.04,"d":0.78},{"g":"0-5","v":0.04,"v2":0.08,"d":0.78},{"g":"0-5","v":0.08,"v2":0.12,"d":0.77},{"g":"0-5","v":0.12,"v2":0.16,"d":0.75},{"g":"0-5","v":0.16,"v2":0.2,"d":0.74},{"g":"0-5","v":0.2,"v2":0.24,"d":0.72},{"g":"0-5","v":0.24,"v2":0.28,"d":0.7},{"g":"0-5","v":0.28,"v2":0.32,"d":0.69},{"g":"0-5","v":0.32,"v2":0.36,"d":0.66},{"g":"0-5","v":0.36,"v2":0.4,"d":0.64},{"g":"0-5","v":0.4,"v2":0.44,"d":0.62},{"g":"0-5","v":0.44,"v2":0.48,"d":0.61},{"g":"0-5","v":0.48,"v2":0.52,"d":0.6},{"g":"0-5","v":0.52,"v2":0.56,"d":0.59},{"g":"0-5","v":0.56,"v2":0.6,"d":0.59},{"g":"0-5","v":0.6,"v2":0.64,"d":0.59},{"g":"0-5","v":0.64,"v2":0.68,"d":0.59},{"g":"0-5","v":0.68,"v2":0.72,"d":0.6},{"g":"0-5","v":0.72,"v2":0.76,"d":0.63},{"g":"0-5","v":0.76,"v2":0.8,"d":0.67},{"g":"0-5","v":0.8,"v2":0.84,"d":0.7},{"g":"0-5","v":0.84,"v2":0.88,"d":0.74},{"g":"0-5","v":0.88,"v2":0.92,"d":0.77},{"g":"0-5","v":0.92,"v2":0.96,"d":0.78},{"g":"0-5","v":0.96,"v2":1,"d":0.79},
{"g":"5-10","v":0,"v2":0.04,"d":0.83},{"g":"5-10","v":0.04,"v2":0.08,"d":0.83},{"g":"5-10","v":0.08,"v2":0.12,"d":0.83},{"g":"5-10","v":0.12,"v2":0.16,"d":0.81},{"g":"5-10","v":0.16,"v2":0.2,"d":0.8},{"g":"5-10","v":0.2,"v2":0.24,"d":0.77},{"g":"5-10","v":0.24,"v2":0.28,"d":0.72},{"g":"5-10","v":0.28,"v2":0.32,"d":0.69},{"g":"5-10","v":0.32,"v2":0.36,"d":0.65},{"g":"5-10","v":0.36,"v2":0.4,"d":0.62},{"g":"5-10","v":0.4,"v2":0.44,"d":0.59},{"g":"5-10","v":0.44,"v2":0.48,"d":0.57},{"g":"5-10","v":0.48,"v2":0.52,"d":0.54},{"g":"5-10","v":0.52,"v2":0.56,"d":0.56},{"g":"5-10","v":0.56,"v2":0.6,"d":0.58},{"g":"5-10","v":0.6,"v2":0.64,"d":0.6},{"g":"5-10","v":0.64,"v2":0.68,"d":0.63},{"g":"5-10","v":0.68,"v2":0.72,"d":0.65},{"g":"5-10","v":0.72,"v2":0.76,"d":0.69},{"g":"5-10","v":0.76,"v2":0.8,"d":0.74},{"g":"5-10","v":0.8,"v2":0.84,"d":0.77},{"g":"5-10","v":0.84,"v2":0.88,"d":0.8},{"g":"5-10","v":0.88,"v2":0.92,"d":0.82},{"g":"5-10","v":0.92,"v2":0.96,"d":0.82},{"g":"5-10","v":0.96,"v2":1,"d":0.83},
{"g":"10-15","v":0,"v2":0.04,"d":0.86},{"g":"10-15","v":0.04,"v2":0.08,"d":0.86},{"g":"10-15","v":0.08,"v2":0.12,"d":0.86},{"g":"10-15","v":0.12,"v2":0.16,"d":0.83},{"g":"10-15","v":0.16,"v2":0.2,"d":0.81},{"g":"10-15","v":0.2,"v2":0.24,"d":0.78},{"g":"10-15","v":0.24,"v2":0.28,"d":0.75},{"g":"10-15","v":0.28,"v2":0.32,"d":0.71},{"g":"10-15","v":0.32,"v2":0.36,"d":0.68},{"g":"10-15","v":0.36,"v2":0.4,"d":0.64},{"g":"10-15","v":0.4,"v2":0.44,"d":0.6},{"g":"10-15","v":0.44,"v2":0.48,"d":0.56},{"g":"10-15","v":0.48,"v2":0.52,"d":0.51},{"g":"10-15","v":0.52,"v2":0.56,"d":0.5},{"g":"10-15","v":0.56,"v2":0.6,"d":0.49},{"g":"10-15","v":0.6,"v2":0.64,"d":0.49},{"g":"10-15","v":0.64,"v2":0.68,"d":0.52},{"g":"10-15","v":0.68,"v2":0.72,"d":0.54},{"g":"10-15","v":0.72,"v2":0.76,"d":0.59},{"g":"10-15","v":0.76,"v2":0.8,"d":0.63},{"g":"10-15","v":0.8,"v2":0.84,"d":0.69},{"g":"10-15","v":0.84,"v2":0.88,"d":0.74},{"g":"10-15","v":0.88,"v2":0.92,"d":0.79},{"g":"10-15","v":0.92,"v2":0.96,"d":0.81},{"g":"10-15","v":0.96,"v2":1,"d":0.82}],
"bh":[{"g":"0-5","i":0,"o":-1,"v":0.205},{"g":"0-5","i":1,"o":-1,"v":0.464},{"g":"0-5","i":2,"o":-0.5,"v":0.563},{"g":"0-5","i":3,"o":-1,"v":0.662},{"g":"0-5","i":4,"o":-1,"v":0.872},{"g":"0-5","i":5,"o":1,"v":0.872},{"g":"0-5","i":6,"o":1,"v":0.662},{"g":"0-5","i":7,"o":0.5,"v":0.563},{"g":"0-5","i":8,"o":1,"v":0.464},{"g":"0-5","i":9,"o":1,"v":0.205},{"g":"0-5","i":10,"o":-1,"v":0.205},
{"g":"5-10","i":0,"o":-1,"v":0.032},{"g":"5-10","i":1,"o":-1,"v":0.333},{"g":"5-10","i":2,"o":-0.5,"v":0.469},{"g":"5-10","i":3,"o":-1,"v":0.6},{"g":"5-10","i":4,"o":-1,"v":0.951},{"g":"5-10","i":5,"o":1,"v":0.951},{"g":"5-10","i":6,"o":1,"v":0.6},{"g":"5-10","i":7,"o":0.5,"v":0.469},{"g":"5-10","i":8,"o":1,"v":0.333},{"g":"5-10","i":9,"o":1,"v":0.032},{"g":"5-10","i":10,"o":-1,"v":0.032},
{"g":"10-15","i":0,"o":-1,"v":0},{"g":"10-15","i":1,"o":-1,"v":0.348},{"g":"10-15","i":2,"o":-0.5,"v":0.5},{"g":"10-15","i":3,"o":-1,"v":0.654},{"g":"10-15","i":4,"o":-1,"v":1},{"g":"10-15","i":5,"o":1,"v":1},{"g":"10-15","i":6,"o":1,"v":0.654},{"g":"10-15","i":7,"o":0.5,"v":0.5},{"g":"10-15","i":8,"o":1,"v":0.348},{"g":"10-15","i":9,"o":1,"v":0},{"g":"10-15","i":10,"o":-1,"v":0}],
"wh":[{"g":"0-5","v":0.872,"v2":1},{"g":"0-5","v":0.205,"v2":0},{"g":"5-10","v":0.951,"v2":1},{"g":"5-10","v":0.032,"v2":0}],
"ch":[{"g":"0-5","v":1},{"g":"0-5","v":0},{"g":"5-10","v":1},{"g":"5-10","v":0}],
"mh":[{"g":"0-5","v":0.563},{"g":"5-10","v":0.469},{"g":"10-15","v":0.5}],
"vi":[{"g":"0-5","v":0,"v2":0.04,"d":0.8},{"g":"0-5","v":0.04,"v2":0.08,"d":0.8},{"g":"0-5","v":0.08,"v2":0.12,"d":0.8},{"g":"0-5","v":0.12,"v2":0.16,"d":0.79},{"g":"0-5","v":0.16,"v2":0.2,"d":0.79},{"g":"0-5","v":0.2,"v2":0.24,"d":0.77},{"g":"0-5","v":0.24,"v2":0.28,"d":0.74},{"g":"0-5","v":0.28,"v2":0.32,"d":0.71},{"g":"0-5","v":0.32,"v2":0.36,"d":0.69},{"g":"0-5","v":0.36,"v2":0.4,"d":0.66},{"g":"0-5","v":0.4,"v2":0.44,"d":0.64},{"g":"0-5","v":0.44,"v2":0.48,"d":0.63},{"g":"0-5","v":0.48,"v2":0.52,"d":0.62},{"g":"0-5","v":0.52,"v2":0.56,"d":0.63},{"g":"0-5","v":0.56,"v2":0.6,"d":0.63},{"g":"0-5","v":0.6,"v2":0.64,"d":0.65},{"g":"0-5","v":0.64,"v2":0.68,"d":0.67},{"g":"0-5","v":0.68,"v2":0.72,"d":0.69},{"g":"0-5","v":0.72,"v2":0.76,"d":0.71},{"g":"0-5","v":0.76,"v2":0.8,"d":0.74},{"g":"0-5","v":0.8,"v2":0.84,"d":0.76},{"g":"0-5","v":0.84,"v2":0.88,"d":0.77},{"g":"0-5","v":0.88,"v2":0.92,"d":0.79},{"g":"0-5","v":0.92,"v2":0.96,"d":0.79},{"g":"0-5","v":0.96,"v2":1,"d":0.8},
{"g":"5-10","v":0,"v2":0.04,"d":0.83},{"g":"5-10","v":0.04,"v2":0.08,"d":0.83},{"g":"5-10","v":0.08,"v2":0.12,"d":0.83},{"g":"5-10","v":0.12,"v2":0.16,"d":0.82},{"g":"5-10","v":0.16,"v2":0.2,"d":0.81},{"g":"5-10","v":0.2,"v2":0.24,"d":0.8},{"g":"5-10","v":0.24,"v2":0.28,"d":0.78},{"g":"5-10","v":0.28,"v2":0.32,"d":0.76},{"g":"5-10","v":0.32,"v2":0.36,"d":0.73},{"g":"5-10","v":0.36,"v2":0.4,"d":0.7},{"g":"5-10","v":0.4,"v2":0.44,"d":0.67},{"g":"5-10","v":0.44,"v2":0.48,"d":0.65},{"g":"5-10","v":0.48,"v2":0.52,"d":0.62},{"g":"5-10","v":0.52,"v2":0.56,"d":0.63},{"g":"5-10","v":0.56,"v2":0.6,"d":0.63},{"g":"5-10","v":0.6,"v2":0.64,"d":0.64},{"g":"5-10","v":0.64,"v2":0.68,"d":0.66},{"g":"5-10","v":0.68,"v2":0.72,"d":0.67},{"g":"5-10","v":0.72,"v2":0.76,"d":0.69},{"g":"5-10","v":0.76,"v2":0.8,"d":0.71},{"g":"5-10","v":0.8,"v2":0.84,"d":0.72},{"g":"5-10","v":0.84,"v2":0.88,"d":0.73},{"g":"5-10","v":0.88,"v2":0.92,"d":0.74},{"g":"5-10","v":0.92,"v2":0.96,"d":0.75},{"g":"5-10","v":0.96,"v2":1,"d":0.76},
{"g":"10-15","v":0,"v2":0.04,"d":0.88},{"g":"10-15","v":0.04,"v2":0.08,"d":0.87},{"g":"10-15","v":0.08,"v2":0.12,"d":0.84},{"g":"10-15","v":0.12,"v2":0.16,"d":0.8},{"g":"10-15","v":0.16,"v2":0.2,"d":0.78},{"g":"10-15","v":0.2,"v2":0.24,"d":0.74},{"g":"10-15","v":0.24,"v2":0.28,"d":0.69},{"g":"10-15","v":0.28,"v2":0.32,"d":0.65},{"g":"10-15","v":0.32,"v2":0.36,"d":0.59},{"g":"10-15","v":0.36,"v2":0.4,"d":0.53},{"g":"10-15","v":0.4,"v2":0.44,"d":0.49},{"g":"10-15","v":0.44,"v2":0.48,"d":0.47},{"g":"10-15","v":0.48,"v2":0.52,"d":0.46},{"g":"10-15","v":0.52,"v2":0.56,"d":0.47},{"g":"10-15","v":0.56,"v2":0.6,"d":0.49},{"g":"10-15","v":0.6,"v2":0.64,"d":0.51},{"g":"10-15","v":0.64,"v2":0.68,"d":0.53},{"g":"10-15","v":0.68,"v2":0.72,"d":0.57},{"g":"10-15","v":0.72,"v2":0.76,"d":0.61},{"g":"10-15","v":0.76,"v2":0.8,"d":0.65},{"g":"10-15","v":0.8,"v2":0.84,"d":0.69},{"g":"10-15","v":0.84,"v2":0.88,"d":0.73},{"g":"10-15","v":0.88,"v2":0.92,"d":0.77},{"g":"10-15","v":0.92,"v2":0.96,"d":0.78},{"g":"10-15","v":0.96,"v2":1,"d":0.79}],
"bi":[{"g":"0-5","i":0,"o":-1,"v":0.211},{"g":"0-5","i":1,"o":-1,"v":0.397},{"g":"0-5","i":2,"o":-0.5,"v":0.481},{"g":"0-5","i":3,"o":-1,"v":0.566},{"g":"0-5","i":4,"o":-1,"v":0.819},{"g":"0-5","i":5,"o":1,"v":0.819},{"g":"0-5","i":6,"o":1,"v":0.566},{"g":"0-5","i":7,"o":0.5,"v":0.481},{"g":"0-5","i":8,"o":1,"v":0.397},{"g":"0-5","i":9,"o":1,"v":0.211},{"g":"0-5","i":10,"o":-1,"v":0.211},
{"g":"5-10","i":0,"o":-1,"v":0.019},{"g":"5-10","i":1,"o":-1,"v":0.335},{"g":"5-10","i":2,"o":-0.5,"v":0.451},{"g":"5-10","i":3,"o":-1,"v":0.57},{"g":"5-10","i":4,"o":-1,"v":0.901},{"g":"5-10","i":5,"o":1,"v":0.901},{"g":"5-10","i":6,"o":1,"v":0.57},{"g":"5-10","i":7,"o":0.5,"v":0.451},{"g":"5-10","i":8,"o":1,"v":0.335},{"g":"5-10","i":9,"o":1,"v":0.019},{"g":"5-10","i":10,"o":-1,"v":0.019},
{"g":"10-15","i":0,"o":-1,"v":0},{"g":"10-15","i":1,"o":-1,"v":0.268},{"g":"10-15","i":2,"o":-0.5,"v":0.402},{"g":"10-15","i":3,"o":-1,"v":0.551},{"g":"10-15","i":4,"o":-1,"v":0.975},{"g":"10-15","i":5,"o":1,"v":0.975},{"g":"10-15","i":6,"o":1,"v":0.551},{"g":"10-15","i":7,"o":0.5,"v":0.402},{"g":"10-15","i":8,"o":1,"v":0.268},{"g":"10-15","i":9,"o":1,"v":0},{"g":"10-15","i":10,"o":-1,"v":0}],
"wi":[{"g":"0-5","v":0.819,"v2":1},{"g":"0-5","v":0.211,"v2":0},{"g":"5-10","v":0.901,"v2":1},{"g":"5-10","v":0.019,"v2":0},{"g":"10-15","v":0.975,"v2":1}],
"ci":[{"g":"0-5","v":1},{"g":"0-5","v":0},{"g":"5-10","v":1},{"g":"5-10","v":0},{"g":"10-15","v":1}],
"mi":[{"g":"0-5","v":0.481},{"g":"5-10","v":0.451},{"g":"10-15","v":0.402}]
},
"resolve":{"scale":{"x":"independent","y":"independent","color":"independent","size":"independent","xOffset":"independent"},"axis":{"x":"independent","y":"independent"},"legend":{"color":"independent","size":"independent"}},
"layer":[
{"data":{"values":[{"x":0,"x2":1,"y":0,"y2":1167}]},
 "encoding":{"x":{"field":"x","type":"quantitative","scale":{"domain":[0,1],"range":[80.3,84.8],"nice":false,"zero":false},"axis":null},
  "y":{"field":"y","type":"quantitative","scale":{"domain":[0,1167],"range":[181.7,6],"nice":false,"zero":false},"axis":{"orient":"right","offset":-623.2,"values":[0,1000],"format":"d","domain":false,"tickSize":5,"labelPadding":8,"labelFontSize":14,"title":"speed [µm/s]","titleFontSize":14,"titleX":-33.8,"titleY":101.5,"titleAngle":270}}},
 "layer":[
  {"mark":{"type":"rect","color":{"gradient":"linear","x1":0,"y1":1,"x2":0,"y2":0,"stops":[{"offset":0,"color":"#a50026"},{"offset":0.1,"color":"#d3322b"},{"offset":0.2,"color":"#f16d43"},{"offset":0.3,"color":"#fcab63"},{"offset":0.4,"color":"#fedc8c"},{"offset":0.5,"color":"#f9f7ae"},{"offset":0.6,"color":"#d7ee8e"},{"offset":0.7,"color":"#a4d86f"},{"offset":0.8,"color":"#64bc61"},{"offset":0.9,"color":"#23964f"},{"offset":1,"color":"#006837"}]}},
   "encoding":{"x2":{"field":"x2"},"y2":{"field":"y2"}}},
  {"data":{"values":[{"x":-17.3,"y":1077,"label":"a"}]},"mark":{"type":"text","font":"Liberation Sans","fontSize":21,"fontWeight":"bold","align":"left","baseline":"alphabetic","color":"#000000"},"encoding":{"text":{"field":"label"}}}
 ]},
{"encoding":{"x":{"field":"x","type":"quantitative","scale":{"domain":[-1,1],"range":[170.7,296.7],"nice":false,"zero":false},"axis":null},"y":{"field":"y","type":"quantitative","scale":{"domain":[-1,1],"range":[165,39],"nice":false,"zero":false},"axis":null}},
 "layer":[
  {"data":{"values":[{"x":0,"y":0}]},"mark":{"type":"point","shape":"circle","size":15876,"filled":false,"color":"#3d9a3d","strokeWidth":1.3,"opacity":1}},
  {"data":{"name":"traj1"},"mark":{"type":"point","shape":"circle","filled":true,"size":11,"opacity":1},"encoding":{"color":{"field":"s","type":"quantitative","scale":{"domain":[0,1167],"scheme":"redyellowgreen"},"legend":null}}}
 ]},
{"encoding":{"x":{"field":"x","type":"quantitative","scale":{"domain":[-1,1],"range":[349,475],"nice":false,"zero":false},"axis":null},"y":{"field":"y","type":"quantitative","scale":{"domain":[-1,1],"range":[165,39],"nice":false,"zero":false},"axis":null}},
 "layer":[
  {"data":{"values":[{"x":0,"y":0}]},"mark":{"type":"point","shape":"circle","size":15876,"filled":false,"color":"#3d9a3d","strokeWidth":1.3,"opacity":1}},
  {"data":{"name":"traj2"},"mark":{"type":"point","shape":"circle","filled":true,"size":11,"opacity":1},"encoding":{"color":{"field":"s","type":"quantitative","scale":{"domain":[0,1167],"scheme":"redyellowgreen"},"legend":null}}}
 ]},
{"encoding":{"x":{"field":"x","type":"quantitative","scale":{"domain":[-1,1],"range":[529.7,655.7],"nice":false,"zero":false},"axis":null},"y":{"field":"y","type":"quantitative","scale":{"domain":[-1,1],"range":[165,39],"nice":false,"zero":false},"axis":null}},
 "layer":[
  {"data":{"values":[{"x":0,"y":0}]},"mark":{"type":"point","shape":"circle","size":15876,"filled":false,"color":"#3d9a3d","strokeWidth":1.3,"opacity":1}},
  {"data":{"name":"traj3"},"mark":{"type":"point","shape":"circle","filled":true,"size":11,"opacity":1},"encoding":{"color":{"field":"s","type":"quantitative","scale":{"domain":[0,1167],"scheme":"redyellowgreen"},"legend":null}}}
 ]},
{"encoding":{"x":{"field":"t","type":"quantitative","scale":{"domain":[-45.4,944.3],"range":[124.3,706.7],"nice":false,"zero":false},"axis":{"orient":"bottom","offset":-1073.7,"values":[0,200,400,600,800],"title":"t [s]","titleX":434,"titleY":39.7,"labelFontSize":15,"titleFontSize":15,"labelPadding":9,"tickSize":5.5}},
  "y":{"field":"v","type":"quantitative","scale":{"domain":[-34.2,1023.4],"range":[452.3,226.7],"nice":false,"zero":false},"axis":{"orient":"left","offset":-124.3,"values":[0,200,400,600,800,1000],"format":"d","title":"mean speed [µm/s]","titleX":-67.3,"titleY":334,"titleAngle":270,"labelFontSize":15,"titleFontSize":16,"labelPadding":1.5,"tickSize":5.5}}},
 "layer":[
  {"data":{"name":"noise"},"mark":{"type":"line","color":"#80b7dd","strokeWidth":1.1}},
  {"data":{"name":"dots"},"mark":{"type":"rule","color":"#333333","strokeWidth":1.6,"strokeDash":[2,13.1]},"encoding":{"y2":{"field":"v2"}}},
  {"data":{"values":[{"t":-253,"v":1034.7,"label":"b"}]},"mark":{"type":"text","font":"Liberation Sans","fontSize":22,"fontWeight":"bold","align":"left","baseline":"alphabetic","color":"#000000"},"encoding":{"text":{"field":"label"}}}
 ]},
{"data":{"name":"fits"},"mark":{"type":"line","strokeWidth":1.4},
 "encoding":{"x":{"field":"t","type":"quantitative","scale":{"domain":[-45.4,944.3],"range":[124.3,706.7],"nice":false,"zero":false},"axis":{"orient":"top","offset":-226.7,"ticks":false,"labels":false,"title":null,"domain":true}},
  "y":{"field":"v","type":"quantitative","scale":{"domain":[-34.2,1023.4],"range":[452.3,226.7],"nice":false,"zero":false},"axis":{"orient":"right","offset":-1.3,"ticks":false,"labels":false,"title":null,"domain":true}},
  "color":{"field":"w","type":"nominal","scale":{"range":["#2ca02c","#ff7f0e","#d62728","#bcbd22","#17becf","#1f77b4"]},"legend":null}}},
{"encoding":{"x":{"field":"t","type":"quantitative","scale":{"domain":[-29.5,619.5],"range":[126.3,521.3],"nice":false,"zero":false},"axis":{"orient":"bottom","offset":-828.3,"values":[0,200,400,600],"title":"t [s]","titleX":323.6,"titleY":45.3,"labelFontSize":15,"labelPadding":8}},
  "y":{"field":"m","type":"quantitative","scale":{"domain":[-0.985,0.024],"range":[697.7,528.3],"nice":false,"zero":false},"axis":{"orient":"left","offset":-126.3,"values":[0,-0.25,-0.5,-0.75],"format":".2f","title":"[µm/s²]","titleX":-78.1,"titleY":586.7,"titleAngle":270,"labelFontSize":15}}},
 "layer":[
  {"data":{"name":"slope"},"mark":{"type":"line","color":"#2b7bba","strokeWidth":1.3}},
  {"data":{"values":[{"t":-157.8,"m":-0.574,"label":"m"}]},"mark":{"type":"text","font":"DejaVu Sans","fontSize":16,"fontStyle":"italic","angle":270,"align":"center","baseline":"middle","color":"#1a1a1a"},"encoding":{"text":{"field":"label"}}},
  {"data":{"values":[{"t":-234.6,"m":-0.105,"label":"c"}]},"mark":{"type":"text","font":"Liberation Sans","fontSize":22,"fontWeight":"bold","align":"left","baseline":"alphabetic","color":"#000000"},"encoding":{"text":{"field":"label"}}}
 ]},
{"encoding":{"x":{"field":"g","type":"nominal","scale":{"type":"band","domain":["0-5","5-10","10-15"],"range":[114.3,301.7],"paddingInner":0,"paddingOuter":0.015},"axis":{"orient":"bottom","offset":-556,"title":"t [min]","titleX":201.7,"titleY":46.7,"labelPadding":8}},
  "y":{"field":"v","type":"quantitative","scale":{"domain":[-73,2073],"range":[970,822.7],"nice":false,"zero":false},"axis":{"orient":"left","offset":-114.3,"values":[0,1000,2000],"format":"d","title":"median speed  [µm/s]","titleX":-68,"titleY":898.3,"titleAngle":270}}},
 "layer":[
  {"data":{"name":"vd"},"mark":{"type":"bar","color":"#a8cee4","stroke":"#a8cee4","strokeWidth":1.4},"encoding":{"y2":{"field":"v2"},"size":{"field":"d","type":"quantitative","scale":{"domain":[0,1],"range":[0,34]},"legend":null}}},
  {"data":{"name":"bd"},"mark":{"type":"line","color":"#262626","strokeWidth":1.2},"encoding":{"xOffset":{"field":"o","type":"quantitative","scale":{"domain":[-1,1],"range":[20.4,41.4]}},"order":{"field":"i","type":"quantitative"},"detail":{"field":"g","type":"nominal"}}},
  {"data":{"name":"wd"},"mark":{"type":"rule","color":"#262626","strokeWidth":1.2},"encoding":{"y2":{"field":"v2"}}},
  {"data":{"name":"cd"},"mark":{"type":"tick","color":"#262626","thickness":1.2,"size":10}},
  {"data":{"name":"md"},"mark":{"type":"tick","color":"#2a9d8f","thickness":1.6,"size":10.5}},
  {"data":{"name":"fd"},"mark":{"type":"point","shape":"circle","filled":true,"color":"#263238","size":10,"opacity":1}}
 ]},
{"encoding":{"x":{"field":"x","type":"quantitative","scale":{"domain":[0,2],"range":[146.1,269.9],"nice":false,"zero":false},"axis":null},"y":{"field":"y","type":"quantitative","scale":{"domain":[-73,2073],"range":[970,822.7],"nice":false,"zero":false},"axis":null}},
 "layer":[
  {"data":{"name":"sld"},"mark":{"type":"rule","color":"#333333","strokeWidth":1.2},"encoding":{"x2":{"field":"x2"}}},
  {"data":{"name":"std"},"mark":{"type":"text","font":"DejaVu Sans","fontSize":16,"dy":3,"baseline":"alphabetic","align":"center","color":"#333333"},"encoding":{"text":{"field":"label"}}},
  {"data":{"values":[{"x":-2.35,"y":2477,"label":"d"}]},"mark":{"type":"text","font":"Liberation Sans","fontSize":22,"fontWeight":"bold","align":"left","baseline":"alphabetic","color":"#000000"},"encoding":{"text":{"field":"label"}}}
 ]},
{"encoding":{"x":{"field":"g","type":"nominal","scale":{"type":"band","domain":["0-5","5-10","10-15"],"range":[476.7,660.7],"paddingInner":0.032,"paddingOuter":0},"axis":{"orient":"bottom","offset":-556,"title":"t [min]","titleX":569,"titleY":46,"labelPadding":8}},
  "y":{"field":"v","type":"quantitative","scale":{"domain":[-136,3881],"range":[970,822.7],"nice":false,"zero":false},"axis":{"orient":"left","offset":-476.7,"values":[0,2000],"format":"d","title":"max. speed [µm/s]","titleX":-71.9,"titleY":899.2,"titleAngle":270}}},
 "layer":[
  {"data":{"name":"ve"},"mark":{"type":"bar","color":"#a8cee4","stroke":"#a8cee4","strokeWidth":1.4},"encoding":{"y2":{"field":"v2"},"size":{"field":"d","type":"quantitative","scale":{"domain":[0,1],"range":[0,34]},"legend":null}}},
  {"data":{"name":"be"},"mark":{"type":"line","color":"#262626","strokeWidth":1.2},"encoding":{"xOffset":{"field":"o","type":"quantitative","scale":{"domain":[-1,1],"range":[20.3,39.7]}},"order":{"field":"i","type":"quantitative"},"detail":{"field":"g","type":"nominal"}}},
  {"data":{"name":"we"},"mark":{"type":"rule","color":"#262626","strokeWidth":1.2},"encoding":{"y2":{"field":"v2"}}},
  {"data":{"name":"ce"},"mark":{"type":"tick","color":"#262626","thickness":1.2,"size":10}},
  {"data":{"name":"me"},"mark":{"type":"tick","color":"#2a9d8f","thickness":1.6,"size":10}},
  {"data":{"name":"fe"},"mark":{"type":"point","shape":"circle","filled":true,"color":"#263238","size":10,"opacity":1}}
 ]},
{"encoding":{"x":{"field":"x","type":"quantitative","scale":{"domain":[0,2],"range":[506.7,630.7],"nice":false,"zero":false},"axis":null},"y":{"field":"y","type":"quantitative","scale":{"domain":[-136,3881],"range":[970,822.7],"nice":false,"zero":false},"axis":null}},
 "layer":[
  {"data":{"name":"sle"},"mark":{"type":"rule","color":"#333333","strokeWidth":1.2},"encoding":{"x2":{"field":"x2"}}},
  {"data":{"name":"ste"},"mark":{"type":"text","font":"DejaVu Sans","fontSize":16,"dy":3,"baseline":"alphabetic","align":"center","color":"#333333"},"encoding":{"text":{"field":"label"}}},
  {"data":{"values":[{"x":-2.41,"y":4636,"label":"e"}]},"mark":{"type":"text","font":"Liberation Sans","fontSize":22,"fontWeight":"bold","align":"left","baseline":"alphabetic","color":"#000000"},"encoding":{"text":{"field":"label"}}}
 ]},
{"encoding":{"x":{"field":"g","type":"nominal","scale":{"type":"band","domain":["0-5","5-10","10-15"],"range":[100.7,301],"paddingInner":0.01,"paddingOuter":0},"axis":{"orient":"bottom","offset":-305,"title":"t [min]","titleX":193.3,"titleY":48,"labelPadding":8}},
  "y":{"field":"v","type":"quantitative","scale":{"domain":[2.729,4.847],"range":[1221,1072.7],"nice":false,"zero":false},"axis":{"orient":"left","offset":-100.7,"values":[3,4],"title":"min complexity [bits]","titleX":-39.5,"titleY":1147.5,"titleAngle":270}}},
 "layer":[
  {"data":{"name":"vf"},"mark":{"type":"bar","color":"#a8cee4","stroke":"#a8cee4","strokeWidth":1.4},"encoding":{"y2":{"field":"v2"},"size":{"field":"d","type":"quantitative","scale":{"domain":[0,1],"range":[0,34]},"legend":null}}},
  {"data":{"name":"bf"},"mark":{"type":"line","color":"#262626","strokeWidth":1.2},"encoding":{"xOffset":{"field":"o","type":"quantitative","scale":{"domain":[-1,1],"range":[22.86,43.46]}},"order":{"field":"i","type":"quantitative"},"detail":{"field":"g","type":"nominal"}}},
  {"data":{"name":"wf"},"mark":{"type":"rule","color":"#262626","strokeWidth":1.2},"encoding":{"y2":{"field":"v2"}}},
  {"data":{"name":"cf"},"mark":{"type":"tick","color":"#262626","thickness":1.2,"size":10}},
  {"data":{"name":"mf"},"mark":{"type":"tick","color":"#2a9d8f","thickness":1.6,"size":10.5}},
  {"data":{"name":"ff"},"mark":{"type":"point","shape":"circle","filled":true,"color":"#263238","size":10,"opacity":1}}
 ]},
{"encoding":{"x":{"field":"x","type":"quantitative","scale":{"domain":[0,2],"range":[133.86,267.84],"nice":false,"zero":false},"axis":null},"y":{"field":"y","type":"quantitative","scale":{"domain":[2.729,4.847],"range":[1221,1072.7],"nice":false,"zero":false},"axis":null}},
 "layer":[
  {"data":{"name":"slf"},"mark":{"type":"rule","color":"#333333","strokeWidth":1.2},"encoding":{"x2":{"field":"x2"}}},
  {"data":{"name":"stf"},"mark":{"type":"text","font":"DejaVu Sans","fontSize":16,"dy":3,"baseline":"alphabetic","align":"center","color":"#333333"},"encoding":{"text":{"field":"label"}}},
  {"data":{"values":[{"x":-1.99,"y":5.076,"label":"f"}]},"mark":{"type":"text","font":"Liberation Sans","fontSize":22,"fontWeight":"bold","align":"left","baseline":"alphabetic","color":"#000000"},"encoding":{"text":{"field":"label"}}}
 ]},
{"encoding":{"x":{"field":"g","type":"nominal","scale":{"type":"band","domain":["0-5","5-10","10-15"],"range":[471.3,662.3],"paddingInner":0,"paddingOuter":0.006},"axis":{"orient":"bottom","offset":-303.3,"title":"t [min]","titleX":564,"titleY":45.3,"labelPadding":8}},
  "y":{"field":"v","type":"quantitative","scale":{"domain":[-0.05,1.042],"range":[1222.7,1076.7],"nice":false,"zero":false},"axis":{"orient":"left","offset":-471.3,"values":[0,0.5,1],"format":".1f","title":"AC","titleX":-55.6,"titleY":1149,"titleAngle":270}}},
 "layer":[
  {"data":{"name":"vg"},"mark":{"type":"bar","color":"#a8cee4","stroke":"#a8cee4","strokeWidth":1.4},"encoding":{"y2":{"field":"v2"},"size":{"field":"d","type":"quantitative","scale":{"domain":[0,1],"range":[0,34]},"legend":null}}},
  {"data":{"name":"bg"},"mark":{"type":"line","color":"#262626","strokeWidth":1.2},"encoding":{"xOffset":{"field":"o","type":"quantitative","scale":{"domain":[-1,1],"range":[22.2,41.2]}},"order":{"field":"i","type":"quantitative"},"detail":{"field":"g","type":"nominal"}}},
  {"data":{"name":"wg"},"mark":{"type":"rule","color":"#262626","strokeWidth":1.2},"encoding":{"y2":{"field":"v2"}}},
  {"data":{"name":"cg"},"mark":{"type":"tick","color":"#262626","thickness":1.2,"size":10}},
  {"data":{"name":"mg"},"mark":{"type":"tick","color":"#2a9d8f","thickness":1.6,"size":10}}
 ]},
{"encoding":{"x":{"field":"x","type":"quantitative","scale":{"domain":[0,2],"range":[503.4,630.2],"nice":false,"zero":false},"axis":null},"y":{"field":"y","type":"quantitative","scale":{"domain":[-0.05,1.042],"range":[1222.7,1076.7],"nice":false,"zero":false},"axis":null}},
 "layer":[
  {"data":{"name":"slg"},"mark":{"type":"rule","color":"#333333","strokeWidth":1.2},"encoding":{"x2":{"field":"x2"}}},
  {"data":{"name":"stg"},"mark":{"type":"text","font":"DejaVu Sans","fontSize":16,"dy":3,"baseline":"alphabetic","align":"center","color":"#333333"},"encoding":{"text":{"field":"label"}}},
  {"data":{"values":[{"x":-2.45,"y":1.192,"label":"g"}]},"mark":{"type":"text","font":"Liberation Sans","fontSize":22,"fontWeight":"bold","align":"left","baseline":"alphabetic","color":"#000000"},"encoding":{"text":{"field":"label"}}}
 ]},
{"encoding":{"x":{"field":"g","type":"nominal","scale":{"type":"band","domain":["0-5","5-10","10-15"],"range":[110,300],"paddingInner":0.118,"paddingOuter":0},"axis":{"orient":"bottom","offset":-59,"title":"t [min]","titleX":198.3,"titleY":48,"labelPadding":8}},
  "y":{"field":"v","type":"quantitative","scale":{"domain":[-0.044,1.044],"range":[1467,1320],"nice":false,"zero":false},"axis":{"orient":"left","offset":-110,"values":[0,0.5,1],"format":".1f","title":"TTO","titleX":-56.7,"titleY":1395,"titleAngle":270}}},
 "layer":[
  {"data":{"name":"vh"},"mark":{"type":"bar","color":"#a8cee4","stroke":"#a8cee4","strokeWidth":1.4},"encoding":{"y2":{"field":"v2"},"size":{"field":"d","type":"quantitative","scale":{"domain":[0,1],"range":[0,34]},"legend":null}}},
  {"data":{"name":"bh"},"mark":{"type":"line","color":"#262626","strokeWidth":1.2},"encoding":{"xOffset":{"field":"o","type":"quantitative","scale":{"domain":[-1,1],"range":[19.07,39.07]}},"order":{"field":"i","type":"quantitative"},"detail":{"field":"g","type":"nominal"}}},
  {"data":{"name":"wh"},"mark":{"type":"rule","color":"#262626","strokeWidth":1.2},"encoding":{"y2":{"field":"v2"}}},
  {"data":{"name":"ch"},"mark":{"type":"tick","color":"#262626","thickness":1.2,"size":10}},
  {"data":{"name":"mh"},"mark":{"type":"tick","color":"#2a9d8f","thickness":1.6,"size":10}}
 ]},
{"encoding":{"x":{"field":"x","type":"quantitative","scale":{"domain":[0,2],"range":[139.07,270.93],"nice":false,"zero":false},"axis":null},"y":{"field":"y","type":"quantitative","scale":{"domain":[-0.044,1.044],"range":[1467,1320],"nice":false,"zero":false},"axis":null},"text":{"field":"label"}},
 "data":{"values":[{"x":-2.1,"y":0.957,"label":"h"}]},
 "mark":{"type":"text","font":"Liberation Sans","fontSize":22,"fontWeight":"bold","align":"left","baseline":"alphabetic","color":"#000000"}},
{"encoding":{"x":{"field":"g","type":"nominal","scale":{"type":"band","domain":["0-5","5-10","10-15"],"range":[471.3,662.3],"paddingInner":0.02,"paddingOuter":0},"axis":{"orient":"bottom","offset":-56,"title":"t [min]","titleX":562.3,"titleY":46.7,"labelPadding":8}},
  "y":{"field":"v","type":"quantitative","scale":{"domain":[-0.05,1.047],"range":[1470,1322.7],"nice":false,"zero":false},"axis":{"orient":"left","offset":-471.3,"values":[0,0.5,1],"format":".1f","title":"TTO","titleX":-56.5,"titleY":1395.8,"titleAngle":270}}},
 "layer":[
  {"data":{"name":"vi"},"mark":{"type":"bar","color":"#a8cee4","stroke":"#a8cee4","strokeWidth":1.4},"encoding":{"y2":{"field":"v2"},"size":{"field":"d","type":"quantitative","scale":{"domain":[0,1],"range":[0,34]},"legend":null}}},
  {"data":{"name":"bi"},"mark":{"type":"line","color":"#262626","strokeWidth":1.2},"encoding":{"xOffset":{"field":"o","type":"quantitative","scale":{"domain":[-1,1],"range":[21.41,41.41]}},"order":{"field":"i","type":"quantitative"},"detail":{"field":"g","type":"nominal"}}},
  {"data":{"name":"wi"},"mark":{"type":"rule","color":"#262626","strokeWidth":1.2},"encoding":{"y2":{"field":"v2"}}},
  {"data":{"name":"ci"},"mark":{"type":"tick","color":"#262626","thickness":1.2,"size":10}},
  {"data":{"name":"mi"},"mark":{"type":"tick","color":"#2a9d8f","thickness":1.6,"size":10}}
 ]},
{"encoding":{"x":{"field":"x","type":"quantitative","scale":{"domain":[0,2],"range":[502.71,630.89],"nice":false,"zero":false},"axis":null},"y":{"field":"y","type":"quantitative","scale":{"domain":[-0.05,1.047],"range":[1470,1322.7],"nice":false,"zero":false},"axis":null},"text":{"field":"label"}},
 "data":{"values":[{"x":-2.46,"y":0.98,"label":"i"}]},
 "mark":{"type":"text","font":"Liberation Sans","fontSize":22,"fontWeight":"bold","align":"left","baseline":"alphabetic","color":"#000000"}}
]
}
